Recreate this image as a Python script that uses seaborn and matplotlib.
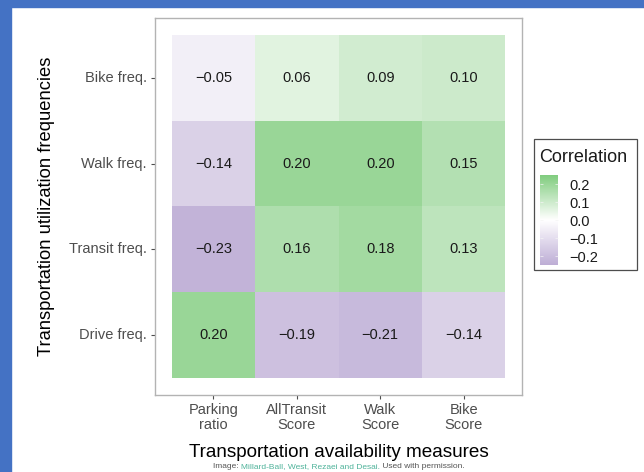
import numpy as np
import pandas as pd
import matplotlib
matplotlib.use("Agg")
import matplotlib.pyplot as plt
import seaborn as sns
from matplotlib.colors import LinearSegmentedColormap, TwoSlopeNorm
from matplotlib.patches import Rectangle

# ---- data ----
measures = ["Parking\nratio", "AllTransit\nScore", "Walk\nScore", "Bike\nScore"]
modes = ["Bike freq.", "Walk freq.", "Transit freq.", "Drive freq."]
bike_row = [-0.05, 0.06, 0.09, 0.10]
walk_row = [-0.14, 0.20, 0.20, 0.15]
transit_row = [-0.23, 0.16, 0.18, 0.13]
drive_row = [0.20, -0.19, -0.21, -0.14]
cbar_ticks = [-0.2, -0.1, 0.0, 0.1, 0.2]

corr = pd.DataFrame([bike_row, walk_row, transit_row, drive_row],
                    index=modes, columns=measures)
labels = corr.map(lambda v: f"{v:.2f}".replace("-", "\u2212"))

plt.rcParams["font.family"] = ["Liberation Sans", "DejaVu Sans"]
plt.rcParams["axes.unicode_minus"] = True

cmap = LinearSegmentedColormap.from_list("pg", ["#bdadd5", "#ffffff", "#80cc7e"])
norm = TwoSlopeNorm(vmin=-0.25, vcenter=0.0, vmax=0.25)

W, H = 644, 472
fig = plt.figure(figsize=(W / 100, H / 100), dpi=100, facecolor="white")

# slide background strips
fig.patches.append(Rectangle((0, 1 - 7 / H), 1, 7 / H, transform=fig.transFigure,
                             color="#4472c4", zorder=0))
fig.patches.append(Rectangle((0, 0), 11 / W, 1, transform=fig.transFigure,
                             color="#4472c4", zorder=0))

ax = fig.add_axes([155 / W, (H - 395) / H, 367 / W, 377 / H])
cax = fig.add_axes([540 / W, (H - 265) / H, 18 / W, 90 / H])

sns.heatmap(corr, ax=ax, cbar_ax=cax, cmap=cmap, norm=norm,
            annot=labels.values, fmt="", annot_kws={"fontsize": 10.5, "color": "#1a1a1a"},
            cbar_kws={"ticks": cbar_ticks})

ax.set_xlim(-0.2, 4.2)
ax.set_ylim(4.2, -0.2)
for s in ax.spines.values():
    s.set_visible(True)
    s.set_color("#b3b3b3")
    s.set_linewidth(1.0)

ax.tick_params(axis="both", length=3, width=0.8, color="#4d4d4d",
               labelcolor="#4d4d4d", labelsize=10.5, pad=3)
ax.set_yticklabels(modes, rotation=0)
ax.set_xticklabels(measures, rotation=0, linespacing=1.05)
ax.set_xlabel("Transportation availability measures", fontsize=13.6, labelpad=9)
ax.set_ylabel("Transportation utilization frequencies", fontsize=13.2, labelpad=10)

# colorbar legend styling
cbar = ax.collections[0].colorbar
cbar.outline.set_visible(False)
cbar.ax.set_ylim(-0.25, 0.25)
cbar.ax.tick_params(length=2.5, width=0.5, color="#f4f4f4", direction="in",
                    left=True, right=True, labelsize=10.5, labelcolor="#1a1a1a", pad=8)
cbar.ax.set_yticklabels([f"{t:.1f}".replace("-", "\u2212") for t in cbar_ticks])

fig.patches.append(Rectangle((534 / W, (H - 270) / H), 103 / W, 131 / H,
                             transform=fig.transFigure, fill=False,
                             edgecolor="#4d4d4d", linewidth=0.9, zorder=5))
fig.text(539 / W, 1 - 158 / H, "Correlation", fontsize=13, va="center", ha="left",
         color="#1a1a1a")

# caption at the bottom edge; pieces placed one after another
fig.canvas.draw()
renderer = fig.canvas.get_renderer()
x = 213.0
for piece, col in [("Image: ", "#555555"),
                   ("Millard-Ball, West, Rezaei and Desai.", "#4fb39a"),
                   (" Used with permission.", "#555555")]:
    t = fig.text(x / W, 1 - 466.5 / H, piece, fontsize=6, color=col, va="center")
    x += t.get_window_extent(renderer).width

fig.savefig("out.png", dpi=100, facecolor="white")
